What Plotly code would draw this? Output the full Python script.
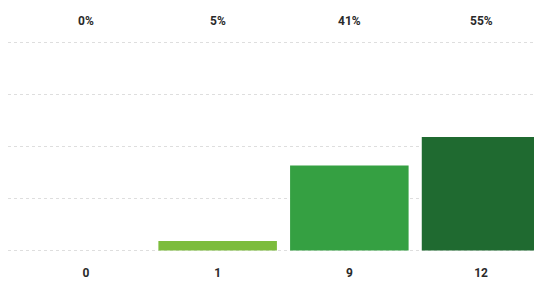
import plotly.graph_objects as go

categories = [0, 1, 2, 3]
values = [0, 1, 9, 12]
bottom_labels = ["0", "1", "9", "12"]
top_labels = ["0%", "5%", "41%", "55%"]
bar_colors = ["#7cbc3c", "#7cbc3c", "#35a042", "#1f6a30"]
grid_vals = [0, 5.5, 11, 16.5, 22]

fig = go.Figure()
fig.add_trace(go.Bar(
    x=categories, y=values, width=0.9,
    marker=dict(color=bar_colors, line=dict(width=0)),
    hoverinfo="skip",
))

for c, t in zip(categories, top_labels):
    fig.add_annotation(x=c, y=1, yref="paper", yanchor="middle", yshift=9,
                       text=t, showarrow=False,
                       font=dict(family="Roboto", size=12, color="#2a2a2a", weight="bold"))

fig.update_layout(
    width=534, height=274,
    margin=dict(l=0, r=0, t=22, b=18),
    paper_bgcolor="white", plot_bgcolor="white",
    showlegend=False,
    font=dict(family="Roboto", size=12, color="#2a2a2a"),
    xaxis=dict(range=[-0.592, 3.463], tickmode="array", tickvals=categories,
               ticktext=bottom_labels, showgrid=False, zeroline=False,
               showline=False, ticks="", fixedrange=True,
               tickfont=dict(family="Roboto", size=12, color="#2a2a2a", weight="bold")),
    yaxis=dict(range=[-1.43, 23.33], tickmode="array", tickvals=grid_vals,
               showticklabels=False, showgrid=True, gridcolor="#dedede",
               griddash="dot", gridwidth=1, zeroline=False, showline=False,
               fixedrange=True),
)

fig.write_html("out.html")
